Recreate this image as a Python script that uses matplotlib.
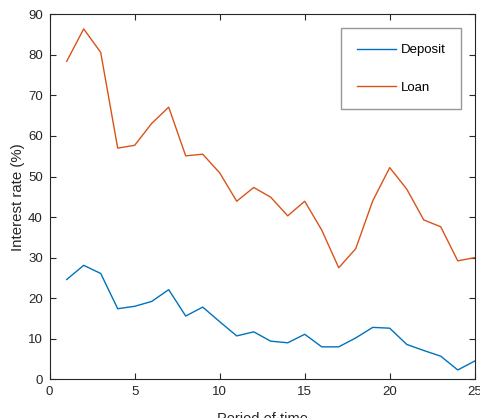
import matplotlib
matplotlib.use("Agg")
import matplotlib.pyplot as plt

plt.rcParams['font.family'] = ['Liberation Sans', 'DejaVu Sans']

periods = list(range(1, 26))
deposit = [24.6, 28.1, 26.1, 17.4, 18.0, 19.2, 22.1, 15.6, 17.8, 14.2,
           10.7, 11.7, 9.4, 9.0, 11.1, 8.0, 8.0, 10.2, 12.8, 12.6,
           8.6, 7.1, 5.7, 2.3, 4.5]
loan = [78.4, 86.4, 80.6, 57.0, 57.7, 63.1, 67.1, 55.1, 55.5, 50.9,
        43.9, 47.3, 44.9, 40.3, 43.9, 36.8, 27.5, 32.2, 44.0, 52.2,
        46.9, 39.3, 37.6, 29.2, 30.0]
xticks = [0, 5, 10, 15, 20, 25]
yticks = list(range(0, 91, 10))

fig = plt.figure(figsize=(4.81, 4.18), dpi=100)
ax = fig.add_axes([0.1033, 0.0926, 0.8837, 0.8732])
ax.plot(periods, deposit, color='#0072BD', lw=1.0, label='Deposit')
ax.plot(periods, loan, color='#D95319', lw=1.0, label='Loan')
ax.set_xlim(0, 25)
ax.set_ylim(0, 90)
ax.set_xticks(xticks)
ax.set_yticks(yticks)
ax.tick_params(direction='in', top=True, right=True, labelsize=9.5,
               length=4, width=0.8, colors='#262626', pad=5)
for s in ax.spines.values():
    s.set_color('#262626')
    s.set_linewidth(0.8)
ax.set_xlabel('Period of time', fontsize=10.5, color='#262626', labelpad=10)
ax.set_ylabel('Interest rate (%)', fontsize=10.8, color='#262626', labelpad=2)
leg = ax.legend(loc='upper right', bbox_to_anchor=(0.968, 0.962), fontsize=9.5,
                handlelength=3.0, handletextpad=0.3, labelspacing=1.9,
                borderpad=1.2, borderaxespad=0, fancybox=False, frameon=True)
leg.get_frame().set_edgecolor('#7f7f7f')
leg.get_frame().set_linewidth(1.0)
fig.savefig('out.png', dpi=100)
